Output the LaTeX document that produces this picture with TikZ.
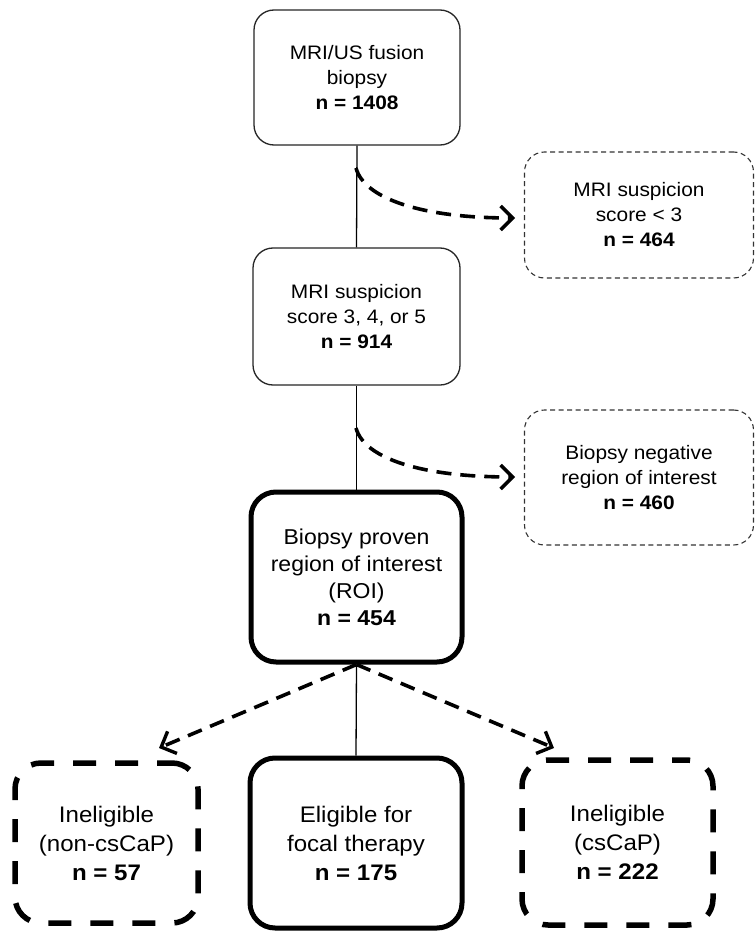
\documentclass[tikz,border=0pt]{standalone}
\usepackage{fontspec}
\setmainfont{Liberation Sans}[FakeStretch=1.07]
\usetikzlibrary{arrows.meta}
\tikzset{
  box/.style={draw=black!85, line width=1.3pt, rounded corners=20pt, align=center, inner sep=0pt, fill=white},
  thickbox/.style={draw=black, line width=5pt, rounded corners=25pt, align=center, inner sep=0pt, fill=white},
  dashbox/.style={draw=black!80, line width=1.1pt, dash pattern=on 5pt off 3.5pt, rounded corners=20pt, align=center, inner sep=0pt},
  thickdash/.style={draw=black, line width=5.5pt, dash pattern=on 23pt off 19pt, dash phase=8pt, rounded corners=26pt, align=center, inner sep=0pt},
  conn/.style={draw=black, line width=1.3pt},
  darr/.style={draw=black, line width=3.6pt, dash pattern=on 15pt off 9pt, -{Straight Barb[length=12pt,width=24pt,line width=3.4pt]}},
  topfont/.style={font=\fontsize{19.5}{25}\selectfont},
  midfont/.style={font=\fontsize{21.5}{27}\selectfont},
  botfont/.style={font=\fontsize{22.5}{29}\selectfont},
}
\begin{document}
\begin{tikzpicture}[x=1pt,y=-1pt]
\useasboundingbox (0,0) rectangle (755,931);
\fill[white] (0,0) rectangle (755,931);

\node[box, topfont, minimum width=206pt, minimum height=135pt] (b1) at (357,77.5)
  {MRI/US fusion\\biopsy\\\textbf{n = 1408}};
\node[box, topfont, minimum width=207pt, minimum height=137pt] (b2) at (356.5,316.5)
  {MRI suspicion\\score 3, 4, or 5\\\textbf{n = 914}};
\node[dashbox, topfont, minimum width=229pt, minimum height=126pt] (r1) at (639,215)
  {MRI suspicion\\score < 3\\\textbf{n = 464}};
\node[dashbox, topfont, minimum width=229pt, minimum height=135pt] (r2) at (639,477.5)
  {Biopsy negative\\region of interest\\\textbf{n = 460}};
\node[thickbox, midfont, minimum width=211pt, minimum height=170pt] (b3) at (356.5,577)
  {Biopsy proven\\region of interest\\(ROI)\\\textbf{n = 454}};
\node[thickdash, botfont, minimum width=183pt, minimum height=160pt] (bl) at (106.5,843)
  {Ineligible\\(non-csCaP)\\\textbf{n = 57}};
\node[thickbox, botfont, minimum width=212pt, minimum height=170pt] (bc) at (356,843)
  {Eligible for\\focal therapy\\\textbf{n = 175}};
\node[thickdash, botfont, minimum width=191pt, minimum height=165pt] (br) at (617.5,842.5)
  {Ineligible\\(csCaP)\\\textbf{n = 222}};

\draw[conn] (b1.south) -- (b2.north);
\draw[conn] (b2.south) -- (b3.north);
\draw[conn] (b3.south) -- (bc.north);

\coordinate (s1) at (356,168);
\coordinate (e1) at (515,218);
\coordinate (s2) at (356,428);
\coordinate (e2) at (515,477);
\coordinate (tl) at (159,748);
\coordinate (tr) at (554,748);

\draw[darr] (s1) .. controls (364,198) and (420,218) .. (e1);
\draw[darr] (s2) .. controls (364,458) and (420,477) .. (e2);
\draw[darr] (b3.south) -- (tl);
\draw[darr] (b3.south) -- (tr);
\end{tikzpicture}
\end{document}
